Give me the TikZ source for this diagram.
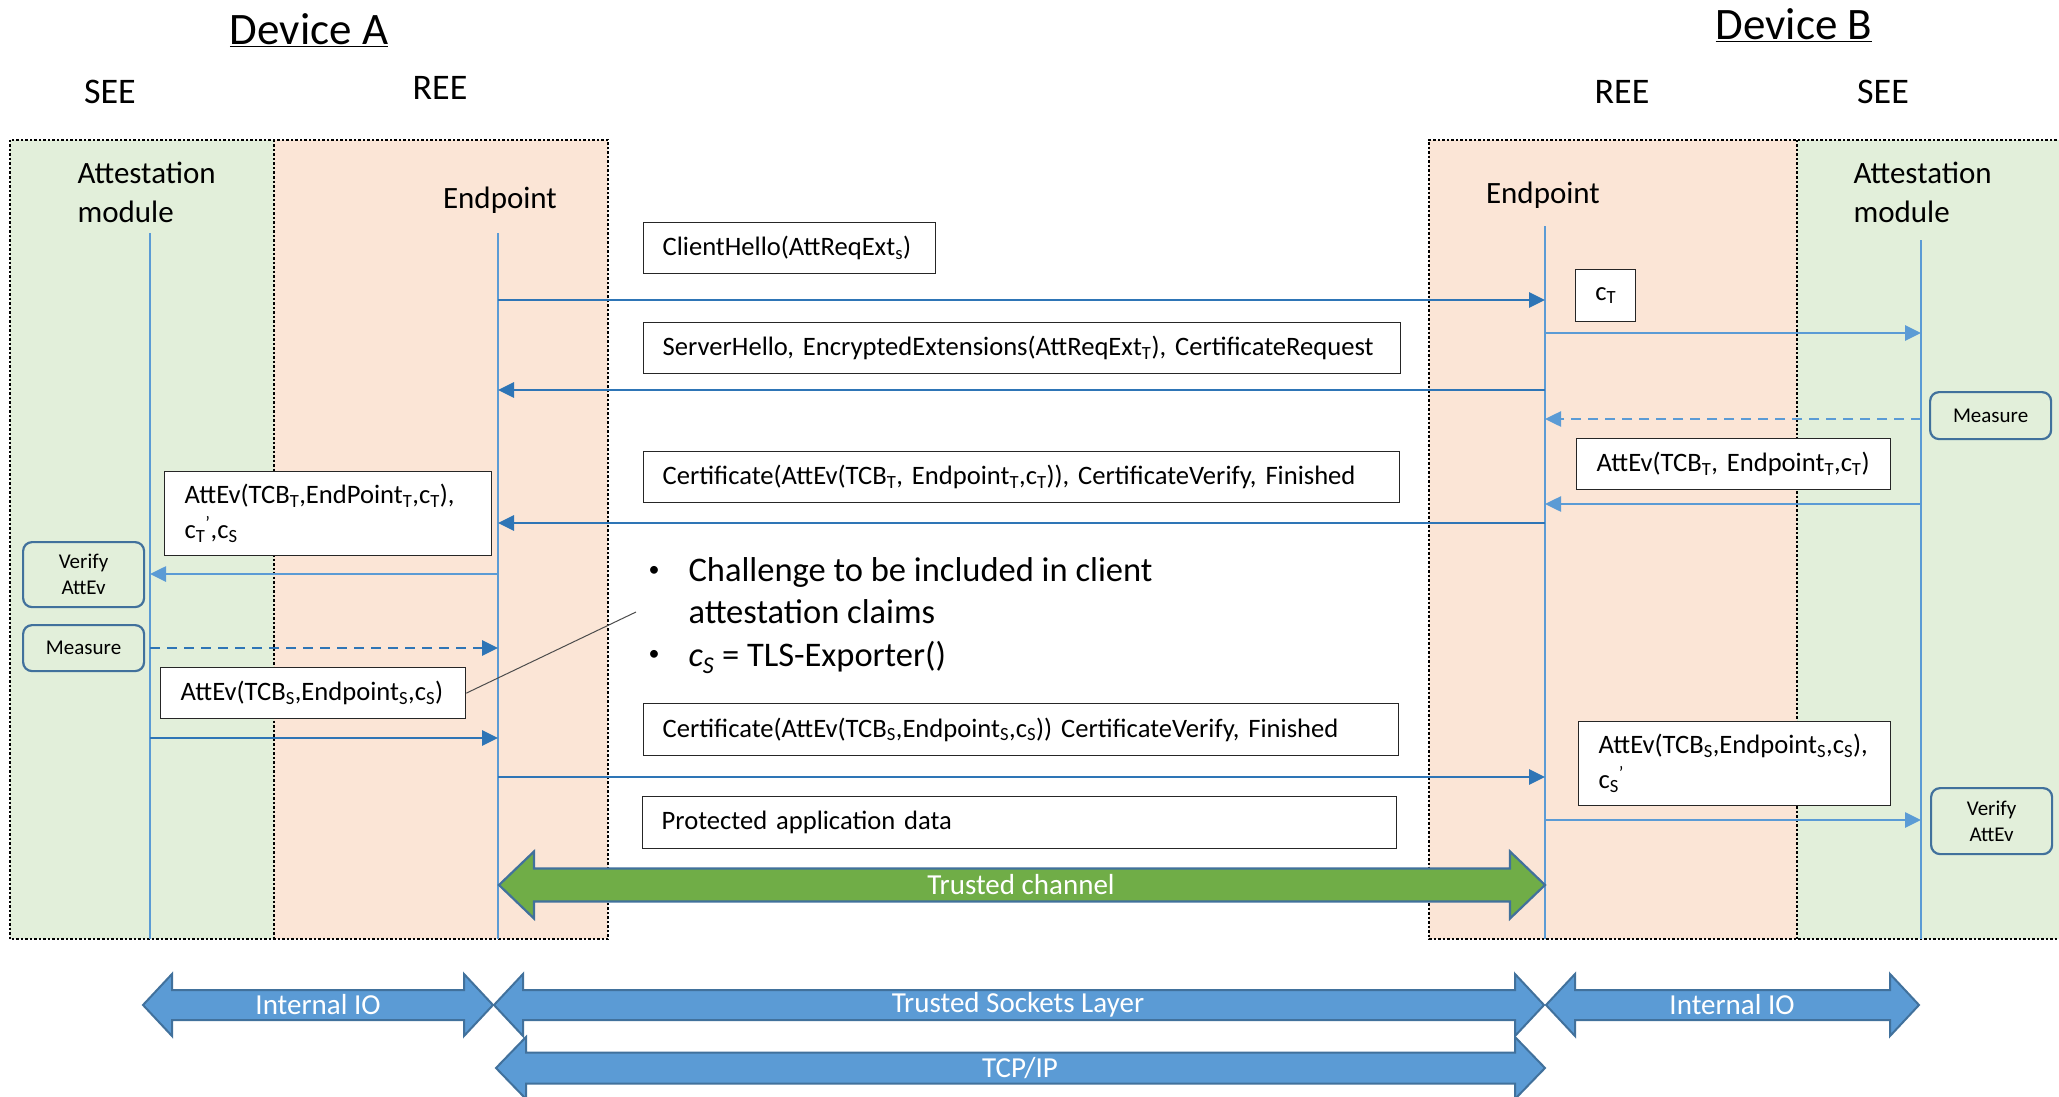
\documentclass[tikz,border=0pt]{standalone}
\usepackage{fontspec}
\setmainfont{Carlito}
\usetikzlibrary{arrows.meta,calc}

\definecolor{seegreen}{HTML}{E2EFDA}
\definecolor{reepeach}{HTML}{FBE5D6}
\definecolor{darkblue}{HTML}{2E75B6}
\definecolor{lightblue}{HTML}{5B9BD5}
\definecolor{outlineblue}{HTML}{41719C}
\definecolor{arrowgreen}{HTML}{70AD47}

\newcommand\fsz[2]{\fontsize{#1}{#2}\selectfont}
\newcommand\sub[1]{\textsubscript{#1}}
\newcommand\prm{\textsuperscript{\textquoteright}}

% block arrow with a head at both ends: x1, x2, y, shaft half-width, head half-width, head length, style
\newcommand\fatarrow[7]{%
  \filldraw[#7] (#1,#3) -- ({#1+#6},{#3-#5}) -- ({#1+#6},{#3-#4}) -- ({#2-#6},{#3-#4})
    -- ({#2-#6},{#3-#5}) -- (#2,#3) -- ({#2-#6},{#3+#5}) -- ({#2-#6},{#3+#4})
    -- ({#1+#6},{#3+#4}) -- ({#1+#6},{#3+#5}) -- cycle;}

\begin{document}
\begin{tikzpicture}[x=1pt,y=-1pt,
  dotbox/.style={draw=black, line width=2.5pt, dash pattern=on 2.5pt off 2pt},
  lifeline/.style={draw=lightblue, line width=1.3pt},
  darr/.style={draw=darkblue, line width=2.9pt, -{Triangle[length=16pt,width=15pt]}},
  larr/.style={draw=lightblue, line width=2.6pt, -{Triangle[length=16pt,width=15pt]}},
  dsh/.style={dash pattern=on 10pt off 7pt},
  msg/.style={draw=black!85, line width=1.3pt, fill=white, anchor=north west,
    inner xsep=19pt, inner ysep=0pt, align=left, font=\fsz{26.6}{35}},
  rbox/.style={draw=outlineblue, line width=2.2pt, rounded corners=9pt, anchor=north west,
    minimum width=121pt, inner sep=0pt, align=center, font=\fsz{21}{26}},
  hdr/.style={font=\fsz{36}{44}},
  role/.style={font=\fsz{31}{39}, align=left},
  note/.style={font=\fsz{34.5}{42}},
  bigarr/.style={fill=lightblue, draw=outlineblue, line width=2pt},
  bigtxt/.style={text=white, font=\fsz{29}{35}}]

\useasboundingbox (0,0) rectangle (2059,1097);
\fill[white] (0,0) rectangle (2059,1097);

% execution environments of both devices
\fill[seegreen] (10,140) rectangle (274,939);
\fill[reepeach] (274,140) rectangle (608,939);
\fill[reepeach] (1429,140) rectangle (1797,939);
\fill[seegreen] (1797,140) rectangle (2070,939);
\draw[dotbox] (10,140) rectangle (608,939);
\draw[dotbox] (274,140) -- (274,939);
\draw[dotbox] (2070,140) -- (1429,140) -- (1429,939) -- (2070,939);
\draw[dotbox] (1797,140) -- (1797,939);

% titles and environment labels
\node[font=\fsz{45}{54}] (devA) at (309,30) {\underline{Device A}};
\node[font=\fsz{45}{54}] (devB) at (1794,25) {\underline{Device B}};
\node[hdr] (seeA) at (110,92) {SEE};
\node[hdr] (reeA) at (440,88) {REE};
\node[hdr] (reeB) at (1622,92) {REE};
\node[hdr] (seeB) at (1883,92) {SEE};

\node[role, anchor=west] (amA) at (74,192) {Attestation\\module};
\node[role] (epA) at (500,200) {Endpoint};
\node[role] (epB) at (1543,195) {Endpoint};
\node[role, anchor=west] (amB) at (1850,192) {Attestation\\module};

% lifelines
\coordinate (LA) at (150,233);
\coordinate (LE) at (498,233);
\coordinate (RE) at (1545,226);
\coordinate (RA) at (1921,240);
\foreach \l in {LA,LE,RE,RA}
  \draw[lifeline] (\l) -- (\l |- 0,939);

% message labels
\node[msg, text width=254pt, minimum height=51pt] (ch) at (643,222) {ClientHello(AttReqExt\sub{s})};
\node[msg, inner xsep=0pt, text width=60pt, minimum height=52pt, align=center] (cT) at (1575,269) {c\sub{T}};
\node[msg, text width=719pt, minimum height=51pt] (sh) at (643,322) {ServerHello, EncryptedExtensions(AttReqExt\sub{T}), CertificateRequest};
\node[msg, text width=718pt, minimum height=51pt] (certT) at (643,451) {Certificate(AttEv(TCB\sub{T}, Endpoint\sub{T},c\sub{T})), CertificateVerify, Finished};
\node[msg, inner xsep=20pt, text width=274pt, minimum height=51pt] (evTB) at (1576,438) {AttEv(TCB\sub{T}, Endpoint\sub{T},c\sub{T})};
\node[msg, inner xsep=20pt, text width=287pt, minimum height=84pt] (evTA) at (164,471) {AttEv(TCB\sub{T},EndPoint\sub{T},c\sub{T}),\\c\sub{T}\prm,c\sub{S}};
\node[msg, inner xsep=20pt, text width=265pt, minimum height=51pt] (evSA) at (160,667) {AttEv(TCB\sub{S},Endpoint\sub{S},c\sub{S})};
\node[msg, text width=717pt, minimum height=52pt] (certS) at (643,703) {Certificate(AttEv(TCB\sub{S},Endpoint\sub{S},c\sub{S})) CertificateVerify, Finished};
\node[msg, text width=716pt, minimum height=52pt] (app) at (642,796) {Protected application data};
\node[msg, inner xsep=20pt, text width=272pt, minimum height=84pt] (evSB) at (1578,721) {AttEv(TCB\sub{S},Endpoint\sub{S},c\sub{S}),\\c\sub{S}\prm};

% local actions of the attestation modules
\node[rbox, minimum height=65pt] (verA) at (22,541) {Verify\\AttEv};
\node[rbox, minimum height=46pt] (measA) at (22,624) {Measure};
\node[rbox, minimum height=47pt] (measB) at (1929,391) {Measure};
\node[rbox, minimum height=66pt] (verB) at (1930,787) {Verify\\AttEv};

% note on the client challenge
\node[font=\fsz{22}{26}, anchor=center] (dot1) at (654,571) {\textbullet};
\node[note, anchor=west, align=left] (note1) at (685,591) {Challenge to be included in client\\attestation claims};
\node[font=\fsz{22}{26}, anchor=center] (dot2) at (654,655) {\textbullet};
\node[note, anchor=west] (note2) at (685,657) {\textit{c}\sub{\textit{S}} = TLS-Exporter()};
\coordinate (callout) at (636,612);
\draw[black!70, line width=1pt] (evSA.east) -- (callout);

% message flow
\draw[darr] (LE |- 0,300) -- (RE |- 0,300);
\draw[larr] (RE |- 0,333) -- (RA |- 0,333);
\draw[darr] (RE |- 0,390) -- (LE |- 0,390);
\draw[larr, dsh] (RA |- 0,419) -- (RE |- 0,419);
\draw[larr] (RA |- 0,504) -- (RE |- 0,504);
\draw[darr] (RE |- 0,523) -- (LE |- 0,523);
\draw[larr] (LE |- 0,574) -- (LA |- 0,574);
\draw[darr, dsh] (LA |- 0,648) -- (LE |- 0,648);
\draw[darr] (LA |- 0,738) -- (LE |- 0,738);
\draw[darr] (LE |- 0,777) -- (RE |- 0,777);
\draw[larr] (RE |- 0,820) -- (RA |- 0,820);

% trusted channel between the endpoints
\fatarrow{499}{1545}{885}{16.5}{33.5}{35}{fill=arrowgreen, draw=outlineblue, line width=2.2pt}
\node[text=white, font=\fsz{29}{35}] (tc) at (1021,885) {Trusted channel};

% protocol layers
\fatarrow{143}{493}{1005}{15}{31}{29}{bigarr}
\fatarrow{494}{1544}{1005}{15}{31}{29}{bigarr}
\fatarrow{1546}{1919}{1005}{15}{31}{29}{bigarr}
\fatarrow{496}{1545}{1068}{15.5}{31}{30}{bigarr}
\node[bigtxt] (ioA) at (318,1005) {Internal IO};
\node[bigtxt] (tsl) at (1018,1005) {Trusted Sockets Layer};
\node[bigtxt] (ioB) at (1732,1005) {Internal IO};
\node[bigtxt] (tcp) at (1020,1068) {TCP/IP};

\end{tikzpicture}
\end{document}
